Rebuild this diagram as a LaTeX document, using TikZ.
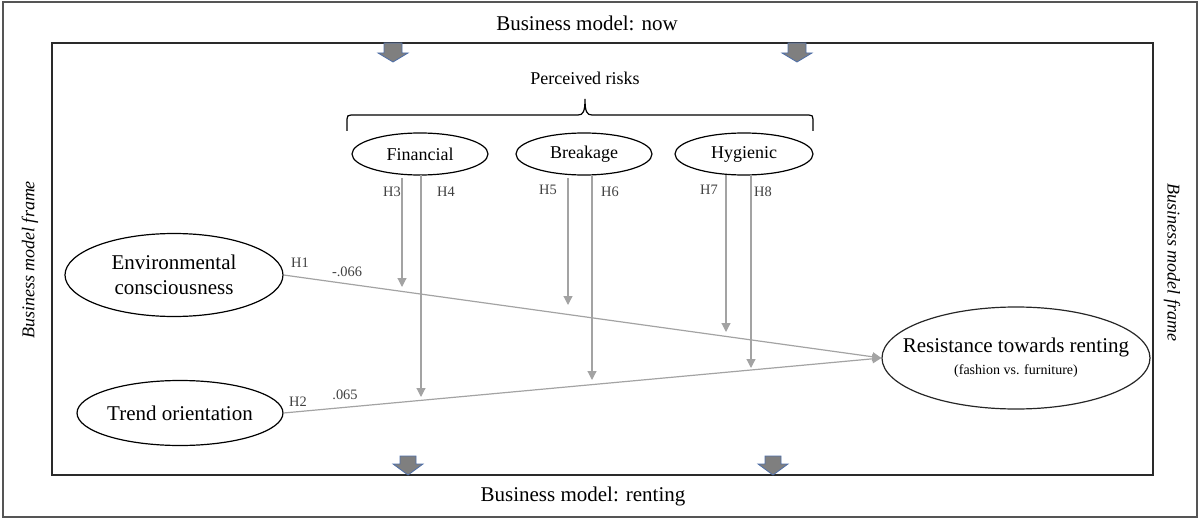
\documentclass[tikz,border=0pt]{standalone}
\usepackage{fontspec}
\setmainfont{Liberation Serif}
\usetikzlibrary{shapes.geometric,arrows.meta}

\definecolor{linkgray}{HTML}{A3A3A3}
\definecolor{labelgray}{HTML}{404040}
\definecolor{blockfill}{HTML}{7F7F7F}
\definecolor{blockedge}{HTML}{4F6FA8}
\definecolor{outerframe}{HTML}{555555}
\definecolor{innerframe}{HTML}{2A2A2A}

\begin{document}
\begin{tikzpicture}[x=0.5pt,y=-0.5pt,
  construct/.style={draw=black, line width=0.6pt, ellipse, inner sep=0pt, align=center},
  bigtext/.style={font=\fontsize{10.5}{12.5}\selectfont},
  risktext/.style={font=\fontsize{9}{11}\selectfont},
  sidetext/.style={font=\fontsize{9}{11}\selectfont\itshape},
  hyp/.style={font=\fontsize{7.2}{8}\selectfont, text=labelgray, inner sep=0pt},
  link/.style={draw=linkgray, line width=0.6pt, -{Triangle[width=4.5pt,length=4.5pt]}},
  blockarrow/.style={fill=blockfill, draw=blockedge, line width=0.4pt},
]
\useasboundingbox (0,0) rectangle (1199,519);

% frames
\draw[outerframe, line width=1pt] (3,2) rectangle (1197,517);
\draw[innerframe, line width=1.2pt] (52,43) rectangle (1153,475);

% block arrows on the inner frame
\foreach \cx in {393,797}
  \draw[blockarrow] (\cx-9,43) -- (\cx+9,43) -- (\cx+9,53) -- (\cx+15,53)
    -- (\cx,62) -- (\cx-15,53) -- (\cx-9,53) -- cycle;
\foreach \cx in {408,773}
  \draw[blockarrow] (\cx-8,456) -- (\cx+8,456) -- (\cx+8,464) -- (\cx+15,464)
    -- (\cx,475) -- (\cx-15,464) -- (\cx-8,464) -- cycle;

% frame texts
\node[bigtext] (now) at (587,23) {Business model: now};
\node[bigtext] (renting) at (583,496) {Business model: renting};
\node[sidetext, rotate=90] (frameL) at (30,260) {Business model frame};
\node[sidetext, rotate=-90] (frameR) at (1172,262) {Business model frame};

% perceived risks and brace
\node[risktext] (risks) at (585,78) {Perceived risks};
\draw[black, line width=0.6pt]
  (347,131) -- (347,119) .. controls (347,116) and (348,115) .. (351,115)
  -- (578,115)
  .. controls (583,115) and (585,112) .. (585,99)
  .. controls (585,112) and (587,115) .. (592,115)
  -- (809,115) .. controls (812,115) and (813,116) .. (813,119)
  -- (813,131);

% constructs
\node[construct, risktext, minimum width=68pt, minimum height=21pt] (fin) at (420,154) {Financial};
\node[construct, risktext, minimum width=68pt, minimum height=21pt] (brk) at (584,154) {Breakage};
\node[construct, risktext, minimum width=69pt, minimum height=21pt] (hyg) at (744,154) {Hygienic};
\node[construct, bigtext, minimum width=109pt, minimum height=41.5pt] (env) at (174,275) {Environmental\\consciousness};
\node[construct, bigtext, minimum width=102.5pt, minimum height=32.5pt] (trend) at (180,413) {Trend orientation};
\node[construct, draw=black!85, minimum width=134pt, minimum height=51pt] (res) at (1016,358)
  {\makebox[60pt][c]{\fontsize{10.5}{12.5}\selectfont Resistance towards renting}\\[-1pt]
   \makebox[60pt][c]{\fontsize{7}{8}\selectfont (fashion vs. furniture)}};

% direct effects
\draw[link] (env.east) -- (res.west);
\draw[link] (trend.east) -- (res.west);

% moderating effects
\coordinate (h3s) at (402,178); \coordinate (h3e) at (402,287);
\coordinate (h4s) at (421,175); \coordinate (h4e) at (421,397);
\coordinate (h5s) at (568,178); \coordinate (h5e) at (568,305);
\coordinate (h6s) at (592,176); \coordinate (h6e) at (592,380);
\coordinate (h7s) at (726,175); \coordinate (h7e) at (726,332);
\coordinate (h8s) at (751,175); \coordinate (h8e) at (751,368);
\foreach \h in {3,...,8}
  \draw[link] (h\h s) -- (h\h e);

% path labels
\node[hyp] (lh1) at (300,263) {H1};
\node[hyp] (c1) at (347,272) {-.066};
\node[hyp] (lh2) at (298,402) {H2};
\node[hyp] (c2) at (345,395) {.065};
\node[hyp] (lh3) at (392,192) {H3};
\node[hyp] (lh4) at (446,192) {H4};
\node[hyp] (lh5) at (548,190) {H5};
\node[hyp] (lh6) at (610,192) {H6};
\node[hyp] (lh7) at (709,190) {H7};
\node[hyp] (lh8) at (763,192) {H8};
\end{tikzpicture}
\end{document}
